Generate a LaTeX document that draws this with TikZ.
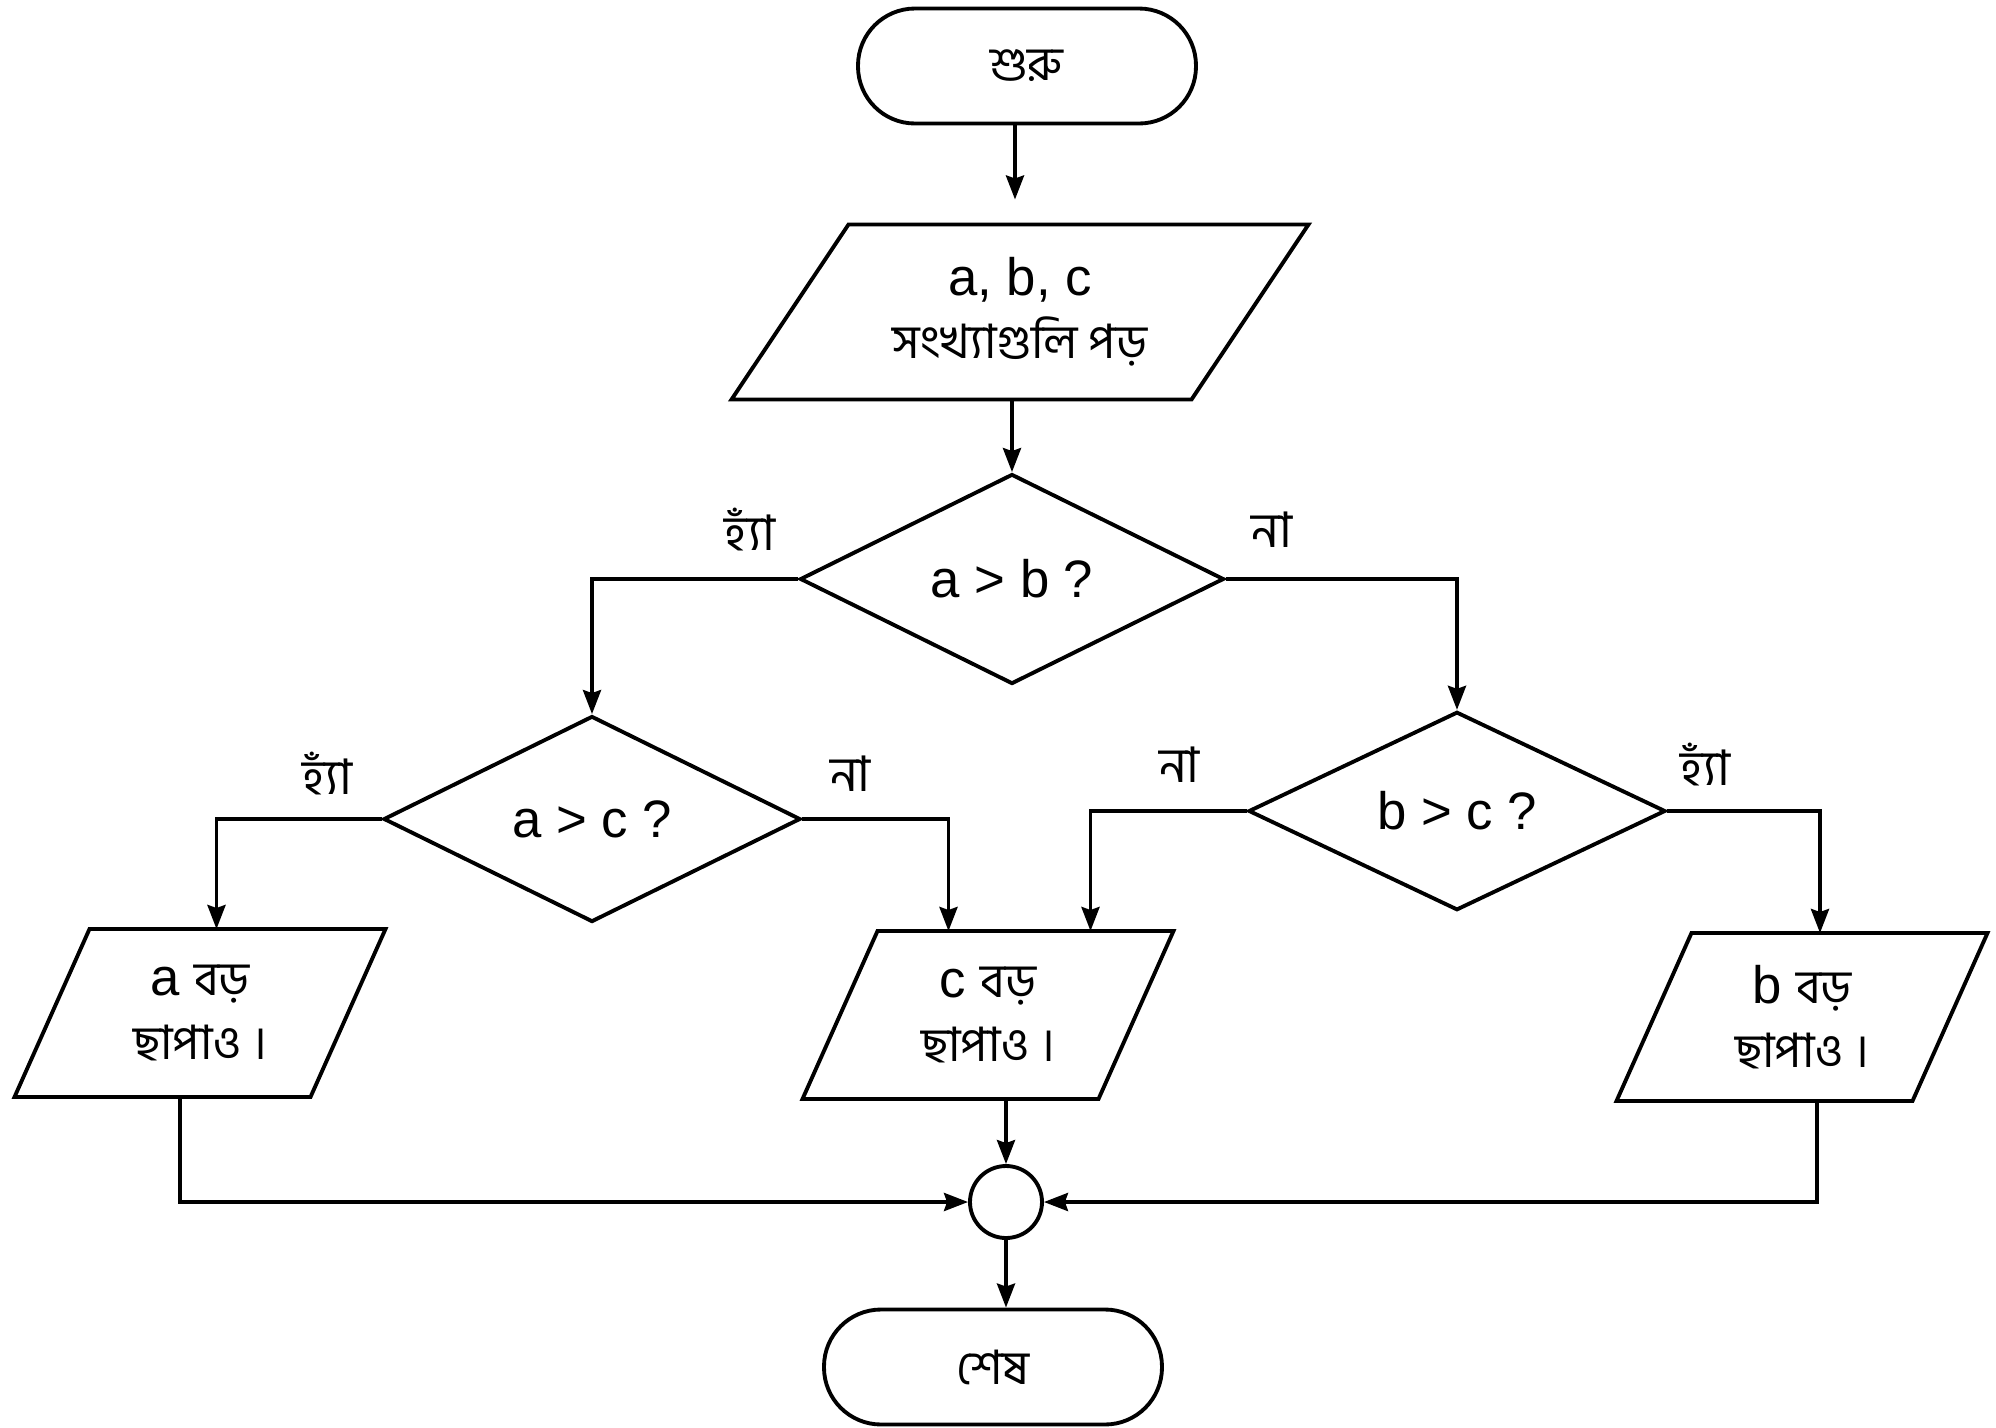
\documentclass[tikz,border=0pt]{standalone}
\usepackage{fontspec}
\setmainfont{Liberation Sans}
\newfontfamily\bn[Script=Bengali,Scale=0.9]{Hind Siliguri}
\usetikzlibrary{shapes.geometric,arrows.meta,positioning}

\begin{document}
\begin{tikzpicture}[line width=1.1pt,font=\fontsize{15}{18}\selectfont,
		term/.style={draw,rounded corners=5.7mm,minimum width=3.38cm,minimum height=1.15cm},
		iobox/.style={rectangle,outer sep=0pt,minimum width=3.71cm,minimum height=1.68cm,align=center},
		decide/.style={draw,diamond,minimum width=4.17cm,minimum height=2.06cm,inner sep=0pt},
		joint/.style={draw,circle,minimum size=7.2mm,inner sep=0pt},
		flow/.style={-{Stealth[length=2.4mm,width=1.8mm,inset=0.3mm]}},
		lbl/.style={font=\bn\fontsize{15.5}{17}\selectfont}]
	\useasboundingbox (0,0) rectangle (19.96,-14.28);
	% nodes
	\node[term] (start) at (10.27,-0.66) {\bn শুরু};
	\node[iobox,minimum width=5.77cm,minimum height=1.75cm] (inp) at (10.2,-3.12)
		{a, b, c\\{\bn সংখ্যাগুলি পড়}};
	\node[decide,minimum width=4.24cm,minimum height=2.1cm] (ab) at (10.12,-5.79) {a > b ?};
	\node[decide] (ac) at (5.92,-8.19) {a > c ?};
	\node[decide,minimum height=1.94cm] (bc) at (14.57,-8.11) {b > c ?};
	\node[iobox] (aout) at (2.0,-10.13) {a {\bn বড়}\\{\bn ছাপাও ।}};
	\node[iobox] (cout) at (9.88,-10.15) {c {\bn বড়}\\{\bn ছাপাও ।}};
	\node[iobox] (bout) at (18.02,-10.17) {b {\bn বড়}\\{\bn ছাপাও ।}};
	\node[joint] (join) at (10.06,-12.02) {};
	\node[term] (end) at (9.93,-13.67) {\bn শেষ};
	% parallelograms round the in/out boxes
	\foreach \n/\s in {inp/1.17,aout/0.75,cout/0.75,bout/0.75}{
		\draw (\n.south west) -- ([xshift=\s cm]\n.north west) -- (\n.north east)
			-- ([xshift=-\s cm]\n.south east) -- cycle;}
	% connectors
	\draw[flow,shorten >=2.5mm] ([xshift=-1.2mm]start.south) -- ([xshift=-1.2mm]start.south |- inp.north);
	\draw[flow] (ab.north |- inp.south) -- (ab.north);
	\draw[flow] (ab.west) node[lbl,xshift=-4.8mm,yshift=4.9mm] {হ্যাঁ} -| (ac.north);
	\draw[flow] (ab.east) node[lbl,xshift=4.6mm,yshift=4.9mm] {না} -| (bc.north);
	\draw[flow] (ac.west) node[lbl,xshift=-5.4mm,yshift=4.5mm] {হ্যাঁ} -| ([xshift=1.65mm]aout.north);
	\draw[flow] (ac.east) node[lbl,xshift=4.8mm,yshift=4.5mm] {না} -| ([xshift=-3.95mm]cout.north);
	\draw[flow] (bc.west) node[lbl,xshift=-6.7mm,yshift=4.6mm] {না} -| ([xshift=10.25mm]cout.north);
	\draw[flow] (bc.east) node[lbl,xshift=3.8mm,yshift=4.6mm] {হ্যাঁ} -| ([xshift=1.8mm]bout.north);
	\draw[flow] ([xshift=-2mm]aout.south) |- (join.west);
	\draw[flow] (cout.south -| join.north) -- (join.north);
	\draw[flow] ([xshift=1.5mm]bout.south) |- (join.east);
	\draw[flow] (join.south) -- (join.south |- end.north);
\end{tikzpicture}
\end{document}
